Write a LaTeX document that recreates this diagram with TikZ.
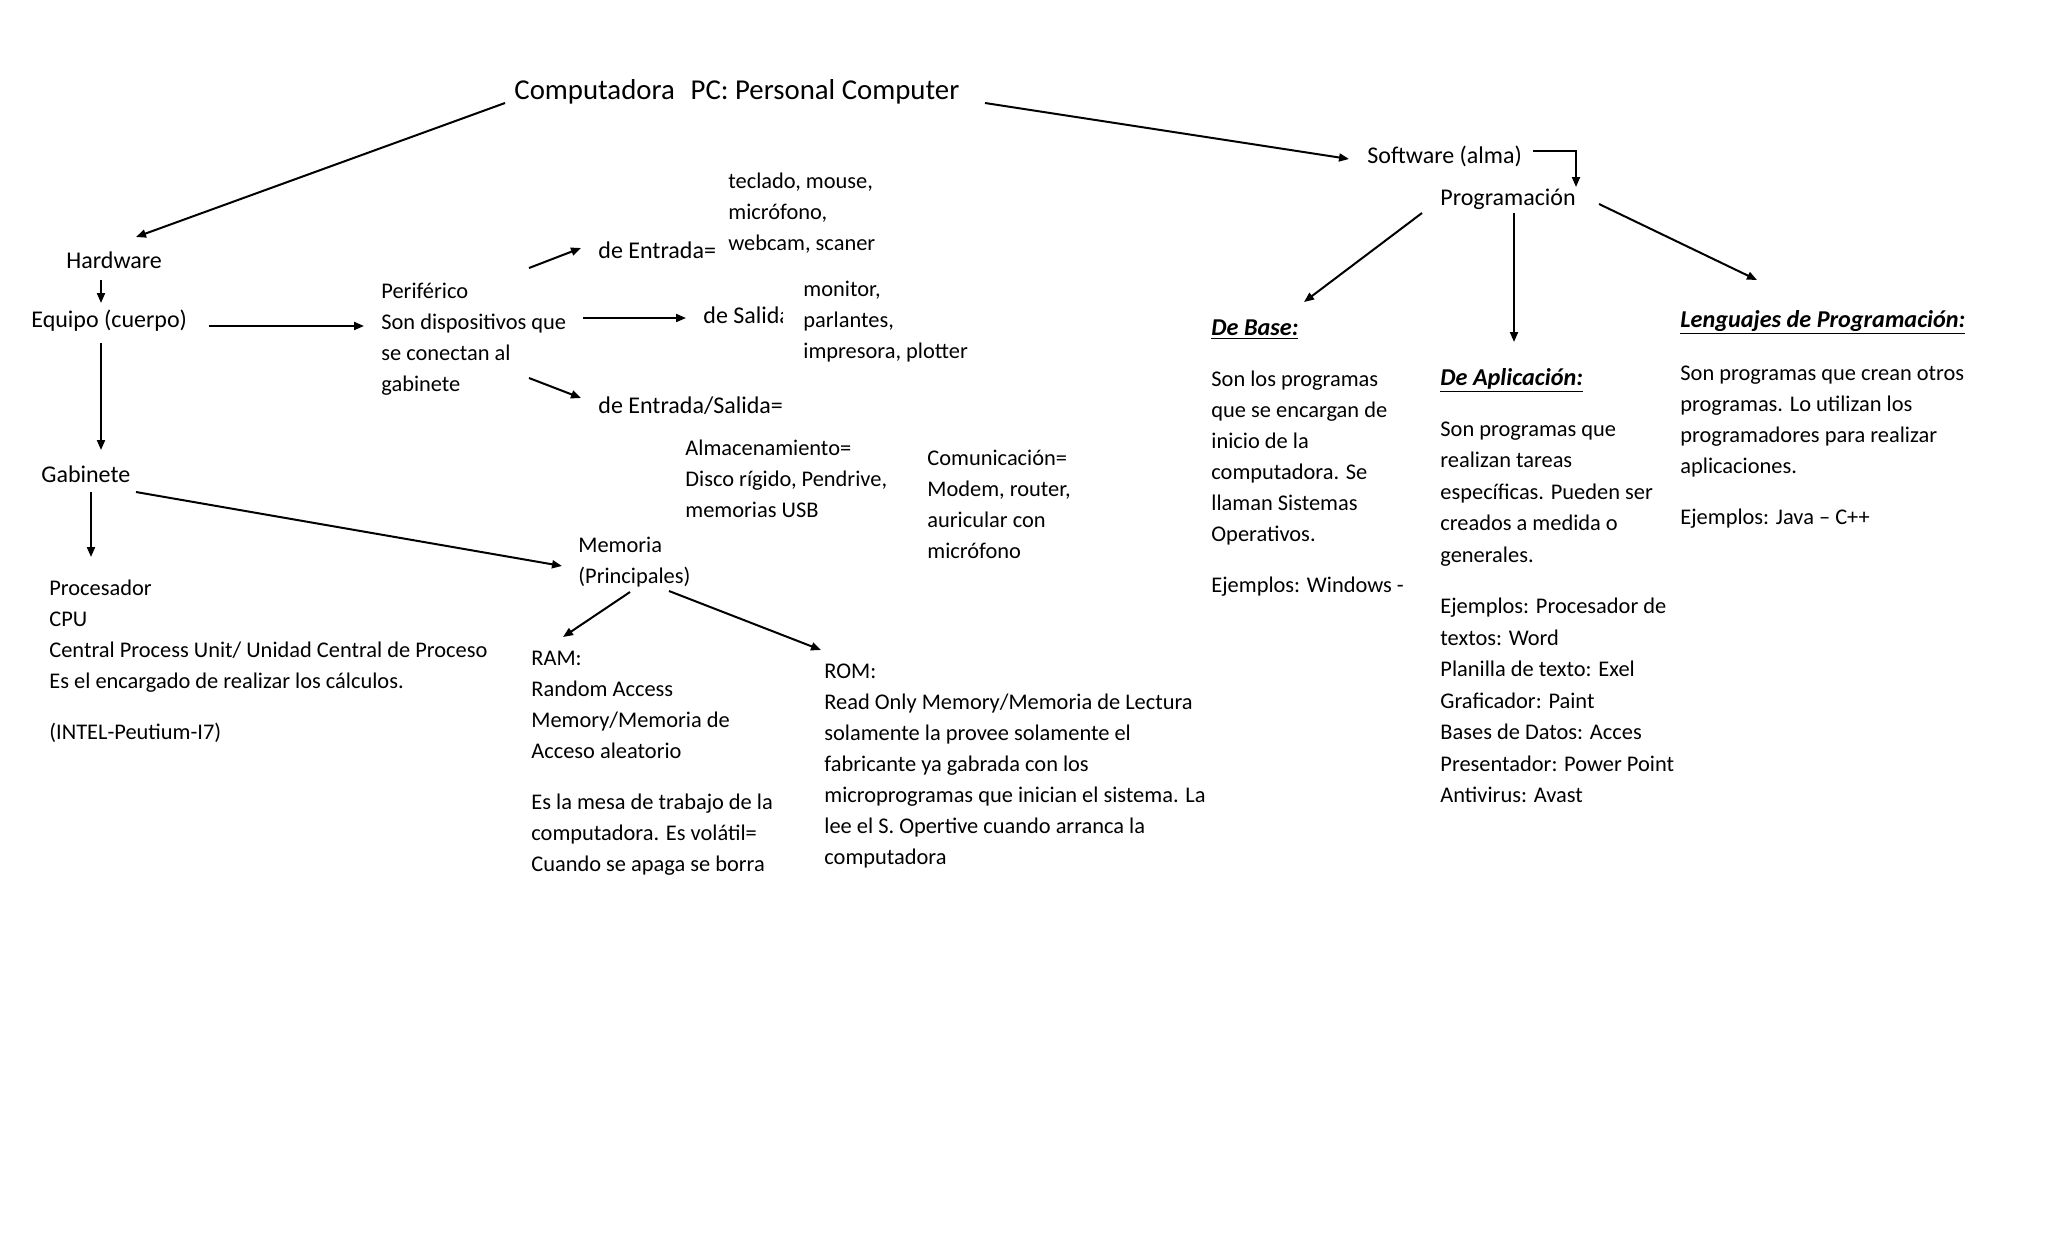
\documentclass[tikz,border=0pt]{standalone}
\usepackage{fontspec}
\setmainfont{Carlito}
\usetikzlibrary{arrows.meta,calc}
\tikzset{
  txt/.style={anchor=base west, inner sep=0pt, font=\fontsize{11.2}{15.5}\selectfont},
  big/.style={anchor=base west, inner sep=0pt, font=\fontsize{12}{15.5}\selectfont},
  ttl/.style={anchor=base west, inner sep=0pt, font=\fontsize{14.4}{17}\selectfont},
  hd/.style={anchor=base west, inner sep=0pt, font=\fontsize{12.1}{15.5}\selectfont\bfseries\itshape},
  conn/.style={line width=1pt, -{Triangle[length=5pt,width=4pt]}},
}
\newcommand{\ml}[1]{\begin{tabular}[t]{@{}l@{}}#1\end{tabular}}
\newcommand{\gap}{\\[10pt]}
\begin{document}
\begin{tikzpicture}[x=0.5pt,y=-0.5pt]
\useasboundingbox[fill=white] (0,0) rectangle (2048,1243);
% nodes
\node[ttl] (title) at (514,99) {Computadora\hspace{0.55em}PC: Personal Computer};
\node[big] (hw) at (66,268) {Hardware};
\node[big] (equipo) at (31,327) {Equipo (cuerpo)};
\node[txt] (perif) at (381,298) {\ml{Periférico\\Son dispositivos que\\se conectan al\\gabinete}};
\node[big] (entrada) at (598,258) {de Entrada=};
\node[txt] (teclado) at (728,188) {\ml{teclado, mouse,\\micrófono,\\webcam, scaner}};
\node[big] (salida) at (703,323) {de Salida};
\node[txt, fill=white, inner sep=0pt] (monitor) at (783,296) {\begin{tabular}[t]{@{\hspace{10pt}}l@{}}monitor,\\parlantes,\\impresora, plotter\end{tabular}};
\node[big] (es) at (598,413) {de Entrada/Salida=};
\node[txt] (almac) at (685,455) {\ml{Almacenamiento=\\Disco rígido, Pendrive,\\memorias USB}};
\node[txt] (comun) at (927,465) {\ml{Comunicación=\\Modem, router,\\auricular con\\micrófono}};
\node[big] (gab) at (41,482) {Gabinete};
\node[txt] (proc) at (49,595) {\ml{Procesador\\CPU\\Central Process Unit/ Unidad Central de Proceso\\Es el encargado de realizar los cálculos.\gap(INTEL-Peutium-I7)}};
\node[txt] (mem) at (578,552) {\ml{Memoria\\(Principales)}};
\node[txt] (ram) at (531,665) {\ml{RAM:\\Random Access\\Memory/Memoria de\\Acceso aleatorio\gap Es la mesa de trabajo de la\\computadora. Es volátil=\\Cuando se apaga se borra}};
\node[txt] (rom) at (824,678) {\ml{ROM:\\Read Only Memory/Memoria de Lectura\\solamente la provee solamente el\\fabricante ya gabrada con los\\microprogramas que inician el sistema. La\\lee el S. Opertive cuando arranca la\\computadora}};
\node[big] (sw) at (1367,163) {Software (alma)};
\node[big] (prog) at (1440,205) {Programación};
\node[hd] (base) at (1211,335) {\underline{De Base:}};
\node[txt] (basetxt) at (1211,386) {\ml{Son los programas\\que se encargan de\\inicio de la\\computadora. Se\\llaman Sistemas\\Operativos.\gap Ejemplos: Windows -}};
\node[hd] (apl) at (1440,385) {\underline{De Aplicación:}};
\node[txt, font=\fontsize{11.2}{15.75}\selectfont] (apltxt) at (1440,436) {\ml{Son programas que\\realizan tareas\\específicas. Pueden ser\\creados a medida o\\generales.\gap Ejemplos: Procesador de\\textos: Word\\Planilla de texto: Exel\\Graficador: Paint\\Bases de Datos: Acces\\Presentador: Power Point\\Antivirus: Avast}};
\node[hd] (leng) at (1680,327) {\underline{Lenguajes de Programación:}};
\node[txt] (lengtxt) at (1680,380) {\ml{Son programas que crean otros\\programas. Lo utilizan los\\programadores para realizar\\aplicaciones.\gap Ejemplos: Java – C++}};
% connectors
\draw[conn] ($(title.base west)+(-9,4)$) -- ($(hw.base west)+(70,-31)$);
\draw[conn] ($(title.base west)+(471,4)$) -- ($(sw.base west)+(-18,-4)$);
\draw[conn] ($(hw.base west)+(35,12)$) -- ($(equipo.base west)+(70,-24)$);
\draw[conn] ($(equipo.base west)+(178,-1)$) -- ($(perif.base west)+(-17,28)$);
\draw[conn] ($(equipo.base west)+(70,16)$) -- ($(gab.base west)+(60,-32)$);
\draw[conn] ($(perif.base west)+(148,-30)$) -- ($(entrada.base west)+(-17,-10)$);
\draw[conn] ($(perif.base west)+(202,20)$) -- ($(salida.base west)+(-17,-5)$);
\draw[conn] ($(perif.base west)+(148,80)$) -- ($(es.base west)+(-17,-15)$);
\draw[conn] ($(gab.base west)+(50,10)$) -- ($(proc.base west)+(42,-38)$);
\draw[conn] ($(gab.base west)+(95,10)$) -- ($(mem.base west)+(-16,14)$);
\draw[conn] ($(mem.base west)+(52,40)$) -- ($(ram.base west)+(32,-28)$);
\draw[conn] ($(mem.base west)+(91,39)$) -- ($(rom.base west)+(-3,-28)$);
\draw[conn] ($(sw.base west)+(166,-12)$) -| ($(prog.base west)+(136,-18)$);
\draw[conn] ($(prog.base west)+(-18,8)$) -- ($(base.base west)+(93,-33)$);
\draw[conn] ($(prog.base west)+(74,8)$) -- ($(apl.base west)+(74,-43)$);
\draw[conn] ($(prog.base west)+(159,-1)$) -- ($(leng.base west)+(77,-47)$);
\end{tikzpicture}
\end{document}
